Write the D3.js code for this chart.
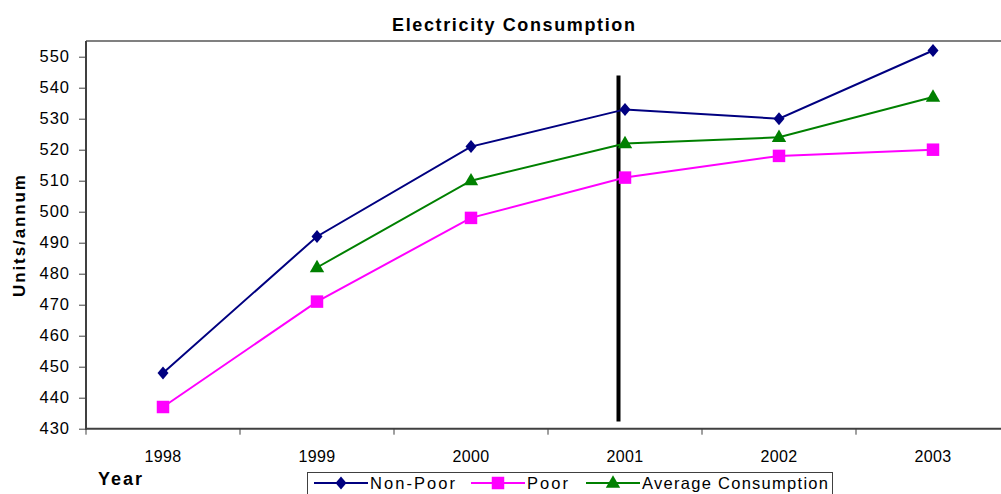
<!DOCTYPE html>
<html><head><meta charset="utf-8">
<script src="https://cdn.jsdelivr.net/npm/d3@7"></script>
<style>body{margin:0;background:#fff;}svg{display:block;font-family:"Liberation Sans",Arial,sans-serif;}</style>
</head><body>
<svg id="c" width="1001" height="494"></svg>
<script>
const years = ["1998","1999","2000","2001","2002","2003"];
const nonPoor = [448, 492, 521, 533, 530, 552];
const poor = [437, 471, 498, 511, 518, 520];
const average = [null, 482, 510, 522, 524, 537];
const yTicks = [430,440,450,460,470,480,490,500,510,520,530,540,550];
const markerYear = "2001";
const titleText = "Electricity Consumption";
const yLabel = "Units/annum";
const xLabel = "Year";

const svg = d3.select("#c");
const pLeft = 86, pRight = 1010, pTop = 41, pBottom = 428.7;
const x = d3.scaleBand().domain(years).range([pLeft, pRight]);
const y = d3.scaleLinear().domain([430, 550]).range([428.7, 56.7]);

// custom diamond symbol (square rotated)
const diamondSym = {
  draw(ctx, size) {
    const w = 5.5, h = 6.5;
    ctx.moveTo(0, -h); ctx.lineTo(w, 0); ctx.lineTo(0, h); ctx.lineTo(-w, 0); ctx.closePath();
  }
};

// frame top
svg.append("line").attr("x1", pLeft).attr("x2", 1001).attr("y1", pTop).attr("y2", pTop)
  .attr("stroke", "#808080").attr("stroke-width", 2);

// y axis
const ya = svg.append("g").attr("transform", `translate(${pLeft},0)`)
  .call(d3.axisLeft(y).tickValues(yTicks).tickSize(7).tickPadding(9).tickSizeOuter(0));
ya.select(".domain").remove();
ya.append("line").attr("x1", 0).attr("x2", 0).attr("y1", pTop).attr("y2", pBottom+1).attr("stroke", "#404040").attr("stroke-width", 2);
ya.selectAll(".tick line").attr("stroke", "#404040");
ya.selectAll(".tick text").attr("font-size", 16.5).attr("fill", "#000").attr("letter-spacing", "1px")
  .attr("font-family", "Liberation Sans, Arial, sans-serif");

// x axis
const xa = svg.append("g").attr("transform", `translate(0,${pBottom})`);
xa.append("line").attr("x1", pLeft).attr("x2", 1001).attr("y1", 0).attr("y2", 0).attr("stroke", "#404040").attr("stroke-width", 2);
const bounds = years.map(d => x(d)).concat([pRight]);
xa.selectAll(".xt").data(bounds).join("line").attr("class","xt")
  .attr("x1", d => d).attr("x2", d => d).attr("y1", 0).attr("y2", 6).attr("stroke", "#404040");
xa.selectAll(".xl").data(years).join("text").attr("class","xl")
  .attr("x", d => x(d) + x.bandwidth()/2).attr("y", 33.5).attr("text-anchor", "middle")
  .attr("font-size", 16).attr("letter-spacing", "0.4px").text(d => d);

// vertical marker line
const cx = d => x(d) + x.bandwidth()/2;
svg.append("line").attr("x1", cx(markerYear) - 6.5).attr("x2", cx(markerYear) - 6.5)
  .attr("y1", 75.5).attr("y2", 421.5).attr("stroke", "#000").attr("stroke-width", 4);

const series = [
  {name: "Non-Poor", values: nonPoor, color: "#000080", sym: diamondSym, size: 100},
  {name: "Poor", values: poor, color: "#FF00FF", sym: d3.symbolSquare, size: 156},
  {name: "Average Consumption", values: average, color: "#008000", sym: d3.symbolTriangle, size: 90}
];

const line = d3.line().defined(d => d.v != null).x(d => cx(d.yr)).y(d => y(d.v));
series.forEach(s => {
  const pts = years.map((yr, i) => ({yr, v: s.values[i]}));
  svg.append("path").datum(pts).attr("d", line).attr("fill", "none")
    .attr("stroke", s.color).attr("stroke-width", 2);
  svg.selectAll(null).data(pts.filter(p => p.v != null)).join("path")
    .attr("d", d3.symbol(s.sym, s.size))
    .attr("transform", p => `translate(${cx(p.yr)},${y(p.v) + (s.sym === d3.symbolTriangle ? 0.5 : 0)})`)
    .attr("fill", s.color);
});

// title
svg.append("text").attr("x", 513.5).attr("y", 31).attr("text-anchor", "middle")
  .attr("font-size", 18).attr("font-weight", "bold").attr("textLength", 243).attr("lengthAdjust", "spacing")
  .text(titleText);

// y label
svg.append("text").attr("transform", "translate(25,236) rotate(-90)").attr("text-anchor", "middle")
  .attr("font-size", 17).attr("font-weight", "bold").attr("textLength", 122).attr("lengthAdjust", "spacing")
  .text(yLabel);

// x label
svg.append("text").attr("x", 98).attr("y", 485).attr("font-size", 18).attr("font-weight", "bold")
  .attr("textLength", 44).attr("lengthAdjust", "spacing").text(xLabel);

// legend
const lg = svg.append("g");
lg.append("rect").attr("x", 307.5).attr("y", 472.5).attr("width", 525).attr("height", 30)
  .attr("fill", "#fff").attr("stroke", "#404040").attr("stroke-width", 1);
const legX = [314, 471, 586];
const legTextW = [85, 41, 186];
series.forEach((s, i) => {
  const lx = legX[i], ly = 483;
  lg.append("line").attr("x1", lx).attr("x2", lx + 54).attr("y1", ly).attr("y2", ly)
    .attr("stroke", s.color).attr("stroke-width", 2);
  lg.append("path").attr("d", d3.symbol(s.sym, s.size)).attr("transform", `translate(${lx + 27},${ly + (s.sym === d3.symbolTriangle ? 0.5 : 0)})`)
    .attr("fill", s.color);
  lg.append("text").attr("x", lx + 56).attr("y", 489).attr("font-size", 16.5)
    .attr("textLength", legTextW[i]).attr("lengthAdjust", "spacing").text(s.name);
});
</script>
</body></html>
